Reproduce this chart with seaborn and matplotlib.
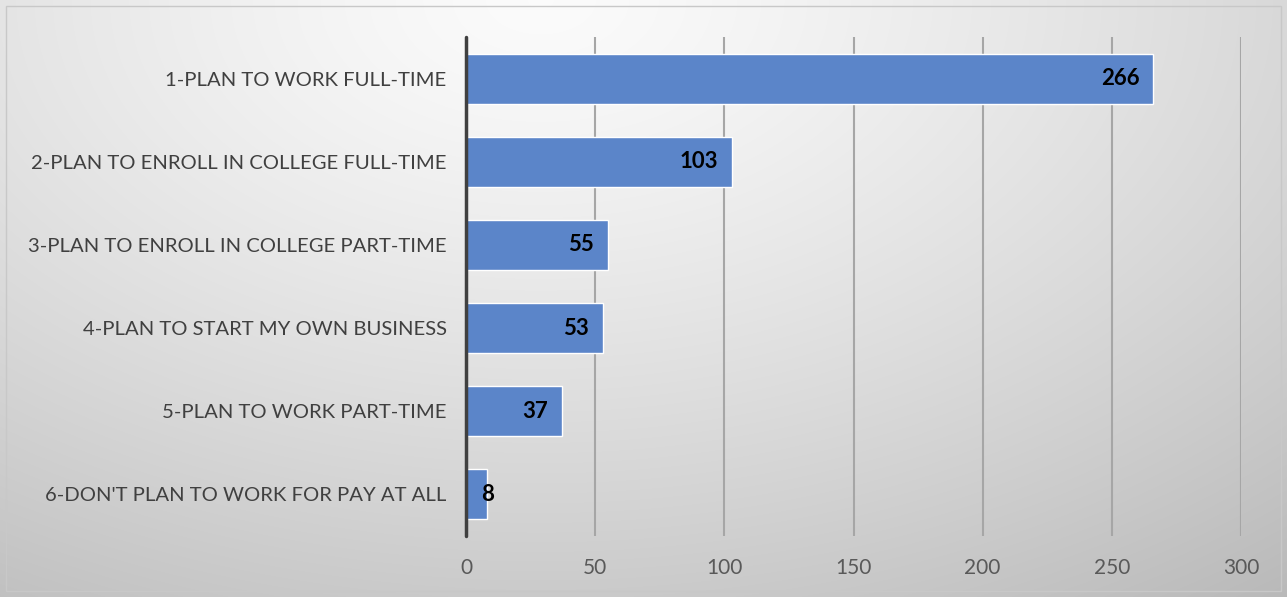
import numpy as np
import pandas as pd
import matplotlib
matplotlib.use("Agg")
import matplotlib.pyplot as plt
import seaborn as sns
from matplotlib.patches import Rectangle

categories = [
    "1-PLAN TO WORK FULL-TIME",
    "2-PLAN TO ENROLL IN COLLEGE FULL-TIME",
    "3-PLAN TO ENROLL IN COLLEGE PART-TIME",
    "4-PLAN TO START MY OWN BUSINESS",
    "5-PLAN TO WORK PART-TIME",
    "6-DON'T PLAN TO WORK FOR PAY AT ALL",
]
values = [266, 103, 55, 53, 37, 8]
xticks = [0, 50, 100, 150, 200, 250, 300]

sns.set_theme(style="white")
plt.rcParams['font.family'] = ['Lato', 'DejaVu Sans']

W, H = 1287, 597
fig = plt.figure(figsize=(W / 100, H / 100), dpi=100)

# radial gradient background
bg = fig.add_axes([0, 0, 1, 1], zorder=-10)
yy, xx = np.mgrid[0:H, 0:W]
cx, cy = 0.42 * W, 0.0 * H
r = np.sqrt(((xx - cx) / W) ** 2 + ((yy - cy) / H * 0.75) ** 2)
r = r / r.max()
lum = 0.985 - 0.26 * r ** 1.3
img = np.dstack([lum, lum, lum])
bg.imshow(img, aspect="auto", extent=[0, W, H, 0])
bg.set_xlim(0, W)
bg.set_ylim(H, 0)
bg.axis("off")
bg.add_patch(Rectangle((6, 6), W - 12, H - 12, fill=False, edgecolor="#c8c8c8", lw=1))

ax = fig.add_axes([466 / W, 1 - 536 / H, (1241 - 466) / W, (536 - 37) / H])
ax.patch.set_alpha(0)

df = pd.DataFrame({"cat": categories, "val": values})
sns.barplot(data=df, x="val", y="cat", orient="h", color="#5b85c9",
            saturation=1, width=0.6, edgecolor="white", linewidth=1, ax=ax, zorder=3)

ax.set_xlim(0, 300)
ax.set_xticks(xticks)
ax.set_xticklabels([str(t) for t in xticks], fontsize=15, color="#595959")
ax.tick_params(axis="x", length=0, pad=16)
ax.tick_params(axis="y", length=0, pad=14, labelsize=14.6, labelcolor="#404040")
ax.set_xlabel("")
ax.set_ylabel("")
for s in ax.spines.values():
    s.set_visible(False)
ax.grid(axis="x", color="#a6a6a6", lw=1.5, zorder=0)
ax.grid(axis="y", visible=False)
ax.axvline(0, color="#404040", lw=2.5, zorder=4, clip_on=False)

for p, v in zip(ax.patches, values):
    xend = p.get_width()
    yc = p.get_y() + p.get_height() / 2
    if v < 20:
        ax.annotate(str(v), (xend, yc), xytext=(1, 0), textcoords="offset points",
                    ha="center", va="center", fontsize=16, fontweight="bold", color="black", zorder=5)
    else:
        ax.annotate(str(v), (xend, yc), xytext=(-10, 0), textcoords="offset points",
                    ha="right", va="center", fontsize=16, fontweight="bold", color="black", zorder=5)

fig.savefig("out.png", dpi=100)
